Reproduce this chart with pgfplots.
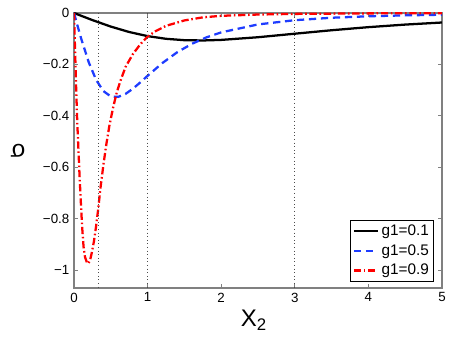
\documentclass[border=0pt]{standalone}
\usepackage{fontspec}
\setmainfont{Liberation Sans}
\usepackage{pgfplots}
\pgfplotsset{compat=1.18}
\definecolor{mblue}{RGB}{30,60,255}
\begin{document}
\begin{tikzpicture}
\path[use as bounding box] (-55.5pt,-40.5pt) rectangle (282pt,216pt);
\begin{axis}[
  at={(0,0)}, anchor=south west,
  scale only axis, width=276pt, height=206.25pt,
  xmin=0, xmax=5, ymin=-1.07, ymax=0,
  xtick={0,1,2,3,4,5},
  ytick={-1,-0.8,-0.6,-0.4,-0.2,0},
  yticklabels={−1,−0.8,−0.6,−0.4,−0.2,0},
  /pgf/number format/assume math mode=true,
  tick align=inside, major tick length=3pt,
  axis line style={black!50, line width=0.8pt},
  tick style={black!50, line width=0.6pt},
  tick label style={font=\fontsize{10}{12}\selectfont},
  xlabel={X\textsubscript{2}},
  ylabel={σ},
  label style={font=\fontsize{18}{20}\selectfont},
  xlabel style={at={(axis description cs:0.489,-0.118)}, anchor=center},
  ylabel style={at={(axis description cs:-0.152,0.5)}, anchor=center, rotate=90},
  legend style={at={(axis description cs:0.978,0.022)}, anchor=south east,
    font=\fontsize{11.5}{13}\selectfont, draw=black, line width=0.5pt,
    inner sep=1.5pt, row sep=1.2pt, cells={anchor=west}},
  legend cell align=left,
  legend image code/.code={\draw[#1] (0pt,0pt) -- (18pt,0pt);},
]
\addplot[black, line width=1.7pt] coordinates {
(0,0)(0.1,-0.0111)(0.25,-0.0276)(0.5,-0.0529)(0.75,-0.0740)(1.0,-0.0900)(1.25,-0.1004)(1.5,-0.1058)(1.75,-0.1069)(2.0,-0.1047)(2.5,-0.0943)(3.0,-0.0806)(3.5,-0.0671)(4.0,-0.0551)(4.5,-0.0451)(5.0,-0.0370)};
\addlegendentry{g1=0.1}
\addplot[mblue, line width=1.7pt, dash pattern=on 5.5pt off 3.5pt] coordinates {
(0,0)(0.05,-0.0517)(0.1,-0.1018)(0.2,-0.1914)(0.3,-0.260)(0.4,-0.304)(0.5,-0.3246)(0.6,-0.3264)(0.7,-0.3148)(0.8,-0.2947)(0.9,-0.2703)(1.0,-0.2444)(1.2,-0.1949)(1.4,-0.1532)(1.6,-0.1202)(1.8,-0.0948)(2.0,-0.0754)(2.5,-0.0445)(3.0,-0.0280)(3.5,-0.0185)(4.0,-0.0128)(4.5,-0.0092)(5.0,-0.0068)};
\addlegendentry{g1=0.5}
\addplot[red, line width=1.7pt, dash pattern=on 5.5pt off 2pt on 1.2pt off 2pt] coordinates {
(0,0)(0.01,-0.10)(0.02,-0.20)(0.03,-0.30)(0.045,-0.43)(0.06,-0.53)(0.075,-0.63)(0.09,-0.72)(0.11,-0.83)(0.13,-0.91)(0.15,-0.95)(0.175,-0.97)(0.195,-0.975)(0.22,-0.96)(0.24,-0.935)(0.27,-0.89)(0.30,-0.83)(0.33,-0.76)(0.36,-0.68)(0.40,-0.59)(0.44,-0.51)(0.48,-0.44)(0.53,-0.37)(0.58,-0.31)(0.63,-0.265)(0.70,-0.21)(0.80,-0.16)(0.90,-0.122)(1.0,-0.092)(1.1,-0.072)(1.25,-0.05)(1.5,-0.029)(1.75,-0.017)(2.0,-0.011)(2.5,-0.006)(3,-0.0035)(4,-0.0015)(5,-0.0008)};
\addlegendentry{g1=0.9}
\addplot[black!70, line width=0.7pt, dotted, forget plot] coordinates {(0.3333,0)(0.3333,-1.07)};
\addplot[black!70, line width=0.7pt, dotted, forget plot] coordinates {(1,0)(1,-1.07)};
\addplot[black!70, line width=0.7pt, dotted, forget plot] coordinates {(3,0)(3,-1.07)};
\end{axis}
\end{tikzpicture}
\end{document}
